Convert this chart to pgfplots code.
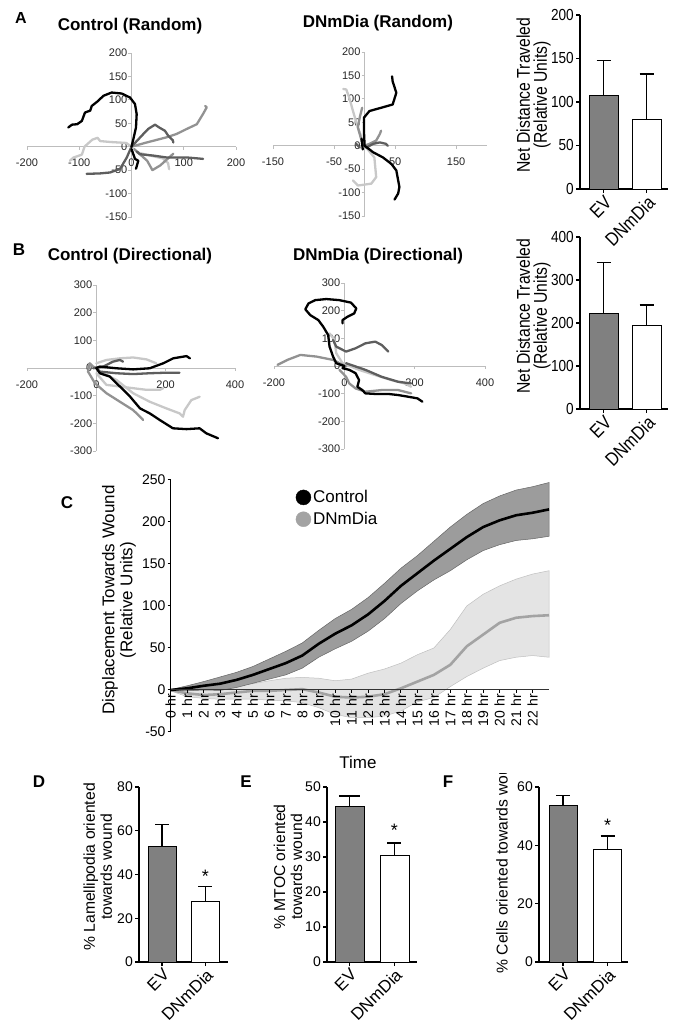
\documentclass[border=0pt]{standalone}
\usepackage{fontspec}
\setmainfont{Liberation Sans}
\newfontfamily\cond[FakeStretch=0.85]{Liberation Sans}
\usepackage{pgfplots}
\usepackage{pgfplotstable}
\pgfplotsset{compat=1.18, /pgf/number format/assume math mode=true}

\definecolor{trkD}{HTML}{5E5E5E}
\definecolor{trkM}{HTML}{929292}
\definecolor{trkL}{HTML}{C8C8C8}
\definecolor{axgray}{HTML}{BDBDBD}
\definecolor{evgray}{HTML}{808080}
\definecolor{ctlband}{HTML}{9C9C9C}
\definecolor{dnband}{HTML}{E4E4E4}
\definecolor{dnline}{HTML}{A3A3A3}

% cap drawn to the right of the error bar (the error mark is turned by 90 degrees)
\pgfdeclareplotmark{halfcap}{\pgfpathmoveto{\pgfpointorigin}\pgfpathlineto{\pgfpoint{0pt}{-2\pgfplotmarksize}}\pgfusepathqstroke}

% mean displacement (C)
\pgfplotstableread{
h  c    d
0  0    0
1  2    -4
2  5    -6
3  7.5  -5
4  12   -3
5  18   -1
6  25   -1
7  32   0
8  41   1
9  55   -3
10 67   -8
11 77   -9
12 90   -8
13 106  -5
14 124  2
15 139  10
16 154  18
17 168  30
18 182  52
19 194  66
20 202  80
21 208  86
22 211  88
23 215  89
}\Cdata
% error band outline, Control: upper edge then lower edge back
\pgfplotstableread{
h  v
0  0.5
1  5
2  10
3  15.5
4  21
5  28
6  37
7  46
8  56
9  71
10 85
11 96
12 110
13 127
14 145
15 160
16 177
17 194
18 209
19 222
20 231
21 238
22 242
23 247
23 183
22 180
21 178
20 173
19 166
18 155
17 142
16 131
15 118
14 103
13 85
12 70
11 58
10 49
9  39
8  26
7  18
6  13
5  8
4  3
3  -0.5
2  0
1  -1
0  -0.5
}\Cband
% error band outline, DNmDia
\pgfplotstableread{
h  v
0  1
1  1
2  2
3  3
4  5
5  7.5
6  11
7  14
8  15
9  14
10 11
11 13
12 20
13 25
14 32
15 42
16 50
17 72
18 100
19 114
20 124
21 132
22 138
23 142
23 39
22 41
21 39
20 35
19 26
18 16
17 4
16 -9
15 -14
14 -25
13 -31
12 -33
11 -33
10 -29
9  -21
8  -15
7  -13
6  -12
5  -11
4  -11
3  -11
2  -10
1  -8
0  -1
}\Dband

\pgfplotsset{
  scat/.style={scale only axis, anchor=south west, axis lines=middle,
    axis line style={axgray, line width=0.7pt, -},
    tick style={axgray, line width=0.7pt}, tick align=outside, major tick length=3pt,
    hide obscured x ticks=false, hide obscured y ticks=false,
    ticklabel style={font=\fontsize{11}{13}\selectfont, text=black!85},
    xticklabel style={yshift=-6pt}, yticklabel style={inner sep=1pt},
    clip=false,
    title style={font=\fontsize{17}{20}\selectfont\bfseries, anchor=center},
    every axis plot/.append style={line width=2.3pt, line join=round, line cap=round, mark=none},
  },
  barax/.style={scale only axis, anchor=south west, axis x line*=bottom, axis y line*=left,
    axis line style={black, line width=1.3pt, -},
    tick style={black, line width=1.3pt}, tick align=outside, major tick length=4pt,
    xtick={0,1}, xticklabels={EV,DNmDia},
    ybar, ymin=0, clip=false,
    error bars/y dir=plus, error bars/y explicit, error bars/error mark=halfcap,
    error bars/error bar style={line width=1.3pt, black},
    error bars/error mark options={line width=1.3pt, black, mark size=7pt},
  },
  barAB/.style={barax, bar width=29pt,
    xticklabel style={rotate=45, anchor=north east, font=\cond\fontsize{19}{20}\selectfont, inner sep=1pt},
    yticklabel style={font=\cond\fontsize{16}{18}\selectfont, inner sep=2pt},
    ylabel style={font=\cond\fontsize{18.5}{17}\selectfont, align=center, anchor=center},
  },
  barDF/.style={barax,
    xticklabel style={rotate=45, anchor=north east, font=\fontsize{17}{19}\selectfont, inner sep=1pt},
    yticklabel style={font=\fontsize{14}{16}\selectfont, inner sep=2pt},
    ylabel style={font=\fontsize{15.7}{17}\selectfont, align=center, anchor=center},
  },
}

\begin{document}
\begin{tikzpicture}
\path[use as bounding box] (0pt,0pt) rectangle (678pt,1024pt);

% ---------- A: Control (Random)
\begin{axis}[scat, at={(27pt,807pt)}, width=209pt, height=164pt,
  xmin=-200, xmax=200, ymin=-150, ymax=200,
  xtick={-200,-100,0,100,200}, ytick={-150,-100,...,200},
  title={Control (Random)}, title style={at={(axis description cs:0.493,1.128)}}]
\addplot[trkL] coordinates {(0,0) (-10,8) (-40,10) (-60,12) (-65,19) (-75,15) (-90,0) (-95,-17) (-111,-23) (-118,-30)};
\addplot[trkL] coordinates {(10,-12) (40,-20) (60,-25) (70,-35) (72,-48)};
\addplot[trkM] coordinates {(0,0) (29,9) (67,20) (86,27) (106,38) (125,48) (137,70) (144,84) (141,87)};
\addplot[trkM] coordinates {(5,-5) (20,-20) (30,-30) (40,-50) (55,-40) (70,-25) (80,-15)};
\addplot[trkD] coordinates {(0,0) (22.6,27) (32,38) (45,47) (53,41) (64,34) (70.5,23) (79,14) (80,9)};
\addplot[trkD] coordinates {(0,0) (-9,-23) (-22,-47.5) (-41,-55) (-60,-57) (-86,-58)};
\addplot[trkD] coordinates {(10,-10) (16,-16) (42,-19) (67,-23) (106,-23) (137,-26)};
\addplot[black] coordinates {(0,0) (3.5,16) (8.6,41) (9.9,69.5) (6.7,91) (-2.9,105) (-18.8,113.5) (-38,115.6) (-54,108.5) (-63.5,98) (-76,87) (-79,77) (-89,73) (-95,55) (-104,48) (-114,47) (-121,41)};
\addplot[black] coordinates {(0,-5) (6.7,-26) (13,-30) (8.6,-47)};
\end{axis}

% ---------- A: DNmDia (Random)
\begin{axis}[scat, at={(273pt,808pt)}, width=213.7pt, height=164pt,
  xmin=-150, xmax=200, ymin=-150, ymax=200,
  xtick={-150,-50,50,150}, ytick={-150,-100,...,200},
  title={DNmDia (Random)}, title style={at={(axis description cs:0.491,1.14)}}]
\addplot[trkL] coordinates {(0,0) (-3,11) (-11,39) (-19,74) (-25,102) (-30,120) (-35,121)};
\addplot[trkL] coordinates {(0,0) (16,-25) (19,-67) (11,-81) (-11,-85) (-19,-74)};
\addplot[trkM] coordinates {(0,0) (-5,11) (-11,39) (-8,60) (-4,81)};
\addplot[trkM] coordinates {(0,0) (8,4) (19,11) (25,25) (27,32)};
\addplot[trkD] coordinates {(0,0) (3,-4) (14,4) (25,7) (35,4) (38,0)};
\addplot[trkD] coordinates {(-14,4) (-8,-4)};
\addplot[black] coordinates {(0,0) (-1,30) (-1,60) (8,74) (30,82) (46,88) (52,113) (46,137) (45,148)};
\addplot[black] coordinates {(0,0) (14,-14) (30,-25) (44,-39) (52,-53) (55,-74) (57,-88) (55,-102) (49,-115)};
\addplot[black] coordinates {(-5,15) (-3,-8)};
\end{axis}

% ---------- A: bar
\begin{axis}[barAB, at={(580pt,835pt)}, width=88pt, height=174pt,
  xmin=-0.547, xmax=1.5, ymax=200, ytick={0,50,...,200},
  ylabel={Net Distance Traveled\\(Relative Units)},
  ylabel style={at={(axis description cs:-0.528,0.54)}}]
\addplot[fill=evgray, bar shift=0pt] coordinates {(0,108) +- (0,40)};
\addplot[fill=white, bar shift=0pt] coordinates {(1,80) +- (0,52)};
\end{axis}

% ---------- B: Control (Directional)
\begin{axis}[scat, at={(27pt,573pt)}, width=208pt, height=166pt,
  xmin=-200, xmax=400, ymin=-300, ymax=300,
  xtick={-200,0,200,400}, ytick={-300,-200,...,300},
  title={Control (Directional)}, title style={at={(axis description cs:0.495,1.139)}}]
\addplot[trkL] coordinates {(0,17) (29,29) (68,35) (106,38) (145,31) (173,17)};
\addplot[trkL] coordinates {(0,-19) (29,-61) (68,-67) (106,-73) (145,-79) (183,-79) (193,-73)};
\addplot[trkL] coordinates {(0,0) (10,-13) (58,-43) (106,-91) (154,-122) (202,-146) (240,-164) (250,-176) (255,-152) (274,-116) (298,-104)};
\addplot[trkM] coordinates {(0,0) (-9,5) (-19,17) (-24,-13) (-4,-55) (29,-91) (68,-122) (106,-152) (126,-176) (135,-188)};
\addplot[trkD] coordinates {(-9,-1) (20,5) (48,23) (68,29) (77,23)};
\addplot[trkD] coordinates {(0,0) (10,-13) (58,-19) (106,-22) (154,-19) (202,-17) (240,-17)};
\addplot[black] coordinates {(0,0) (10,5) (58,-1) (106,-5) (154,-1) (193,17) (222,35) (251,41) (260,43) (270,35)};
\addplot[black] coordinates {(0,0) (10,-19) (39,-31) (68,-67) (97,-103) (126,-146) (154,-164) (183,-188) (221,-218) (260,-221) (298,-218) (317,-236) (351,-254)};
\end{axis}

% ---------- B: DNmDia (Directional)
\begin{axis}[scat, at={(274pt,575pt)}, width=211pt, height=166pt,
  xmin=-200, xmax=400, ymin=-300, ymax=300,
  xtick={-200,0,200,400}, ytick={-300,-200,...,300},
  title={DNmDia (Directional)}, title style={at={(axis description cs:0.493,1.127)}}]
\addplot[trkL] coordinates {(-5,10) (42,-14) (88,-33) (134,-51) (171,-63) (190,-75)};
\addplot[trkL] coordinates {(0,0) (-23,46) (-28,94) (-42,118)};
\addplot[trkM] coordinates {(-190,4) (-162,22) (-125,40) (-79,34) (-32,22) (5,-2)};
\addplot[trkM] coordinates {(-14,-14) (5,-39) (14,-63) (32,-81) (60,-93) (106,-87) (153,-87) (190,-99)};
\addplot[trkD] coordinates {(-32,94) (-23,70) (5,52) (32,64) (60,82) (88,88) (106,76) (125,52)};
\addplot[trkD] coordinates {(5,10) (60,-14) (106,-39) (153,-57) (190,-63)};
\addplot[black] coordinates {(0,0) (-23,10) (-32,34) (-42,70) (-46,112) (-60,142) (-74,166) (-97,184) (-111,205) (-102,226) (-83,238) (-51,242) (-14,238) (19,229) (34,208) (28,190) (9,178) (-5,166) (-5,154)};
\addplot[black] coordinates {(0,0) (-5,-8) (14,-14) (32,-26) (42,-51) (37,-75) (51,-87) (60,-99) (88,-101) (125,-101) (153,-105) (181,-111) (208,-117) (222,-129)};
\end{axis}

% ---------- B: bar
\begin{axis}[barAB, at={(580pt,615pt)}, width=88pt, height=172pt,
  xmin=-0.547, xmax=1.5, ymax=400, ytick={0,100,...,400},
  ylabel={Net Distance Traveled\\(Relative Units)},
  ylabel style={at={(axis description cs:-0.528,0.54)}}]
\addplot[fill=evgray, bar shift=0pt] coordinates {(0,223) +- (0,117)};
\addplot[fill=white, bar shift=0pt] coordinates {(1,196) +- (0,46)};
\end{axis}

% ---------- C
\begin{axis}[at={(170.7pt,292pt)}, anchor=south west, scale only axis, width=378.3pt, height=252pt,
  xmin=0, xmax=23, ymin=-50, ymax=250, axis on top,
  axis x line=middle, axis y line=left, axis line style={-, black, line width=1.2pt},
  x axis line style={line width=1pt, black!80},
  tick style={black, line width=1pt}, tick align=outside, major tick length=3pt,
  hide obscured x ticks=false, hide obscured y ticks=false,
  ytick={-50,0,...,250}, xtick={0,...,22},
  xticklabels={0 hr,1 hr,2 hr,3 hr,4 hr,5 hr,6 hr,7 hr,8 hr,9 hr,10 hr,11 hr,12 hr,13 hr,14 hr,15 hr,16 hr,17 hr,18 hr,19 hr,20 hr,21 hr,22 hr},
  xticklabel style={rotate=90, anchor=east, font=\fontsize{14}{16}\selectfont, inner sep=1pt},
  yticklabel style={font=\fontsize{14}{16}\selectfont, inner sep=2pt},
  ylabel={Displacement Towards Wound\\(Relative Units)},
  ylabel style={font=\fontsize{17}{18}\selectfont, align=center, anchor=center, at={(axis description cs:-0.137,0.524)}},
  xlabel={Time},
  xlabel style={font=\fontsize{17}{19}\selectfont, anchor=center, at={(axis description cs:0.495,-0.119)}},
  clip=false,
  legend image code/.code={\fill[#1] (0pt,0pt) circle (7.5pt);},
  legend style={at={(axis description cs:0.33,0.967)}, anchor=north west, draw=none, fill=none,
    font=\fontsize{17}{19}\selectfont, row sep=4pt, inner sep=0pt, legend cell align=left},
]
\addplot[fill=dnband, draw=black!25, line width=0.5pt, forget plot] table[x=h, y=v]{\Dband} -- cycle;
\addplot[fill=ctlband, draw=black!60, line width=0.5pt, forget plot] table[x=h, y=v]{\Cband} -- cycle;
\addplot[dnline, line width=2.6pt, forget plot] table[x=h, y=d]{\Cdata};
\addplot[black, line width=2.6pt, forget plot] table[x=h, y=c]{\Cdata};
\addlegendimage{black}
\addlegendentry{Control}
\addlegendimage{dnline}
\addlegendentry{DNmDia}
\end{axis}

% ---------- D
\begin{axis}[barDF, at={(139pt,62pt)}, width=89pt, height=175pt, bar width=28pt,
  xmin=-0.53, xmax=1.52, ymax=80, ytick={0,20,...,80},
  ylabel={\% Lamellipodia oriented\\towards wound},
  ylabel style={at={(axis description cs:-0.463,0.543)}}]
\addplot[fill=evgray, bar shift=0pt] coordinates {(0,53) +- (0,10)};
\addplot[fill=white, bar shift=0pt] coordinates {(1,27.6) +- (0,6.9)};
\node[font=\fontsize{18}{18}\selectfont] at (axis cs:1,39) {*};
\end{axis}

% ---------- E
\begin{axis}[barDF, at={(327pt,62pt)}, width=89.5pt, height=175pt, bar width=29pt,
  xmin=-0.5, xmax=1.49, ymax=50, ytick={0,10,...,50},
  ylabel={\% MTOC oriented\\towards wound},
  ylabel style={at={(axis description cs:-0.436,0.543)}}]
\addplot[fill=evgray, bar shift=0pt, error bars/error mark options={line width=1.3pt, black, mark size=10.5pt}] coordinates {(0,44.6) +- (0,2.8)};
\addplot[fill=white, bar shift=0pt] coordinates {(1,30.6) +- (0,3.4)};
\node[font=\fontsize{18}{18}\selectfont] at (axis cs:1,37.5) {*};
\end{axis}

% ---------- F
\begin{axis}[barDF, at={(539pt,62pt)}, width=89pt, height=175pt, bar width=28pt,
  xmin=-0.54, xmax=1.46, ymax=60, ytick={0,20,...,60},
  ylabel={\% Cells oriented towards wound},
  ylabel style={at={(axis description cs:-0.416,-0.086)}, anchor=west}]
\addplot[fill=evgray, bar shift=0pt] coordinates {(0,53.8) +- (0,3.2)};
\addplot[fill=white, bar shift=0pt] coordinates {(1,38.6) +- (0,4.6)};
\node[font=\fontsize{18}{18}\selectfont] at (axis cs:1,47) {*};
\end{axis}

% panel letters
\node[font=\fontsize{16}{16}\selectfont\bfseries] at (21pt,1006pt) {A};
\node[font=\fontsize{17}{17}\selectfont\bfseries] at (19pt,774pt) {B};
\node[font=\fontsize{17}{17}\selectfont\bfseries] at (67pt,521pt) {C};
\node[font=\fontsize{17}{17}\selectfont\bfseries] at (39pt,242pt) {D};
\node[font=\fontsize{17}{17}\selectfont\bfseries] at (246pt,242pt) {E};
\node[font=\fontsize{17}{17}\selectfont\bfseries] at (448pt,242pt) {F};
% crop edge of the panel row, as in the source
\fill[white] (230pt,249pt) rectangle (330pt,262pt);
\fill[white] (440pt,251pt) rectangle (678pt,290pt);
\end{tikzpicture}
\end{document}
